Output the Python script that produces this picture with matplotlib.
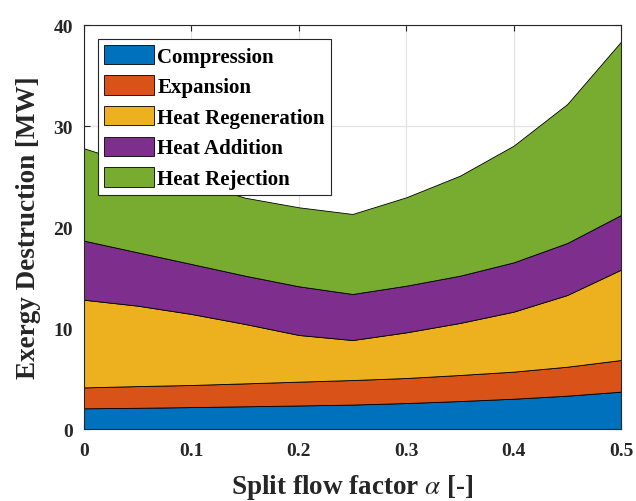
import matplotlib
matplotlib.use("Agg")
import matplotlib.pyplot as plt
import numpy as np

alpha_vals = [0.0, 0.05, 0.10, 0.15, 0.20, 0.25, 0.30, 0.35, 0.40, 0.45, 0.50]
compression = [2.05, 2.10, 2.17, 2.25, 2.33, 2.42, 2.57, 2.77, 3.00, 3.30, 3.70]
expansion = [2.07, 2.15, 2.19, 2.27, 2.36, 2.43, 2.48, 2.58, 2.68, 2.87, 3.13]
heat_regeneration = [8.68, 7.96, 7.03, 5.88, 4.62, 3.96, 4.52, 5.15, 5.94, 7.10, 8.95]
heat_addition = [5.85, 5.28, 4.95, 4.78, 4.82, 4.56, 4.62, 4.68, 4.88, 5.15, 5.41]
heat_rejection = [9.14, 8.61, 8.16, 7.72, 7.82, 7.92, 8.75, 9.90, 11.55, 13.76, 17.16]
labels = ["Compression", "Expansion", "Heat Regeneration", "Heat Addition", "Heat Rejection"]
colors = ["#0072BD", "#D95319", "#EDB120", "#7E2F8E", "#77AC30"]
xticks = [0, 0.1, 0.2, 0.3, 0.4, 0.5]
xticklabels = ["0", "0.1", "0.2", "0.3", "0.4", "0.5"]
yticks = [0, 10, 20, 30, 40]
yticklabels = ["0", "10", "20", "30", "40"]

plt.rcParams['font.family'] = ['Liberation Serif', 'DejaVu Serif']
plt.rcParams['mathtext.fontset'] = 'stix'

fig = plt.figure(figsize=(6.36, 5.02), dpi=100)
ax = fig.add_axes([0.1321, 0.1434, 0.9764 - 0.1321, 0.9482 - 0.1434])

ax.stackplot(alpha_vals, compression, expansion, heat_regeneration, heat_addition, heat_rejection,
             labels=labels, colors=colors, edgecolor='black', linewidth=0.6, zorder=2)

ax.set_xlim(0, 0.5)
ax.set_ylim(0, 40)
ax.set_xticks(xticks)
ax.set_xticklabels(xticklabels)
ax.set_yticks(yticks)
ax.set_yticklabels(yticklabels)
ax.grid(True, color='#e3e3e3', linewidth=0.9, zorder=0)
ax.set_axisbelow(True)
ax.tick_params(direction='in', top=True, right=True, length=4, width=0.8,
               color='#262626', labelsize=14, labelcolor='#262626')
ax.tick_params(axis='x', pad=9)
ax.tick_params(axis='y', pad=8)
for lab in ax.get_xticklabels() + ax.get_yticklabels():
    lab.set_fontweight('bold')
for s in ax.spines.values():
    s.set_color('#262626')
    s.set_linewidth(0.8)
    s.set_zorder(5)

ax.set_xlabel(r"Split flow factor $\alpha$ [-]", fontsize=19.5, fontweight='bold', color='#262626', labelpad=10)
ax.set_ylabel("Exergy Destruction [MW]", fontsize=19.5, fontweight='bold', color='#262626', labelpad=9)

leg = ax.legend(loc='upper left', prop={'size': 15, 'weight': 'bold'}, frameon=True, fancybox=False,
                edgecolor='#262626', framealpha=1, handlelength=2.4, handleheight=1.06,
                handletextpad=0.16, labelspacing=0.42, borderpad=0.3, borderaxespad=0.65)
leg.get_frame().set_linewidth(0.8)
for t in leg.get_texts():
    t.set_color('black')

fig.savefig("out.png", dpi=100)
